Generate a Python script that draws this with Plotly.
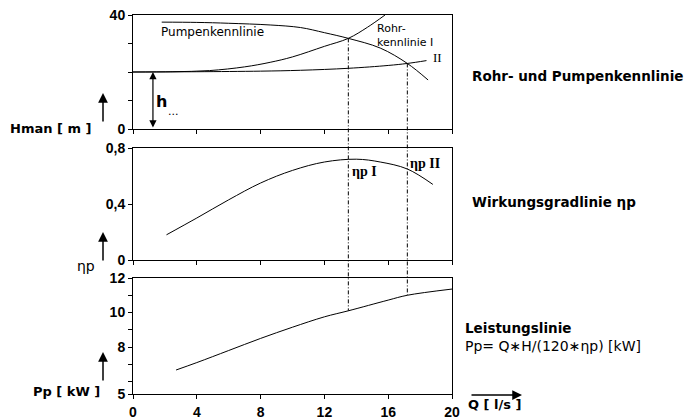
import plotly.graph_objects as go

# ---------------- data ----------------
# Pumpenkennlinie H(Q)
q_pump = [1.8, 4.0, 6.0, 8.6, 10.5, 12.0, 13.5, 15.5, 17.2, 18.5]
h_pump = [37.5, 37.4, 37.1, 36.5, 35.6, 33.8, 31.8, 28.4, 23.0, 17.2]
# Rohrkennlinie I
q_rohr1 = [0.0, 2.5, 4.8, 7.0, 8.6, 10.0, 12.0, 13.5, 14.7, 15.8]
h_rohr1 = [20.0, 20.1, 20.5, 21.8, 23.4, 25.3, 29.0, 31.8, 35.7, 40.0]
# Rohrkennlinie II
q_rohr2 = [0.0, 4.0, 8.0, 10.5, 13.5, 16.0, 17.2, 18.4]
h_rohr2 = [20.0, 20.1, 20.3, 20.6, 21.3, 22.3, 23.0, 24.0]
# Wirkungsgradlinie eta_p(Q)
q_eta = [2.1, 4.0, 6.0, 8.0, 10.0, 12.0, 14.0, 15.5, 17.2, 18.8]
eta = [0.18, 0.30, 0.43, 0.55, 0.64, 0.70, 0.72, 0.70, 0.65, 0.54]
# Leistungslinie P(Q)
q_p = [2.7, 4.0, 6.0, 8.0, 10.0, 12.0, 13.5, 16.0, 17.2, 20.0]
p_p = [6.67, 7.1, 7.8, 8.5, 9.15, 9.75, 10.1, 10.72, 11.0, 11.36]
# Betriebspunkte I and II
q_op = [13.5, 17.2]
h_op = [31.8, 23.0]
p_op = [10.1, 11.0]

x_ticks = [0, 4, 8, 12, 16, 20]
h_ticks = [0, 10, 20, 30, 40]
h_ticktext = ["0", "", "", "", "40"]
eta_ticks = [0, 0.4, 0.8]
eta_ticktext = ["0", "0,4", "0,8"]
p_axis_start = 5.28  # broken axis: bottom labelled 5
p_ticks = [p_axis_start, 6, 7, 8, 9, 10, 11, 12]
p_ticktext = ["5", "", "", "8", "", "10", "", "12"]
h_geo = 20.0

# ---------------- layout geometry ----------------
W, H = 686, 419
xdom = [133 / W, 452 / W]
dom_top = [1 - 129 / H, 1 - 15 / H]
dom_mid = [1 - 260 / H, 1 - 148 / H]
dom_bot = [1 - 394 / H, 1 - 278 / H]
rng_top = [0, 40]
rng_mid = [0, 0.8]
rng_bot = [p_axis_start, 12]


def to_paper(v, dom, rng):
    return dom[0] + (v - rng[0]) / (rng[1] - rng[0]) * (dom[1] - dom[0])


line = dict(color="black", width=1)
SANS = "DejaVu Sans"
TICK = "Liberation Sans"
SERIF = "Liberation Serif"

fig = go.Figure()
fig.add_trace(go.Scatter(x=q_pump, y=h_pump, mode="lines", line=dict(shape="spline", **line),
                         xaxis="x3", yaxis="y3"))
fig.add_trace(go.Scatter(x=q_rohr1, y=h_rohr1, mode="lines", line=dict(shape="spline", **line),
                         xaxis="x3", yaxis="y3"))
fig.add_trace(go.Scatter(x=q_rohr2, y=h_rohr2, mode="lines", line=dict(shape="spline", **line),
                         xaxis="x3", yaxis="y3"))
fig.add_trace(go.Scatter(x=q_eta, y=eta, mode="lines", line=dict(shape="spline", **line),
                         xaxis="x2", yaxis="y2"))
fig.add_trace(go.Scatter(x=q_p, y=p_p, mode="lines", line=dict(shape="spline", **line),
                         xaxis="x", yaxis="y"))

tickfont = dict(family=TICK, size=14, color="black", weight="bold")
common_x = dict(range=[0, 20], tickvals=x_ticks, ticks="outside", ticklen=4, tickcolor="black",
                showline=True, linecolor="black", linewidth=1, mirror=True, showgrid=False,
                zeroline=False, domain=xdom, fixedrange=True, automargin=False)
common_y = dict(ticks="outside", ticklen=4, tickcolor="black", showline=True, linecolor="black",
                linewidth=1, mirror=True, showgrid=False, zeroline=False, fixedrange=True,
                automargin=False, tickfont=tickfont)

shapes = []
for q, h, p in zip(q_op, h_op, p_op):
    shapes.append(dict(type="line", xref="x", yref="paper", x0=q, x1=q,
                       y0=to_paper(h, dom_top, rng_top), y1=to_paper(p, dom_bot, rng_bot),
                       line=dict(color="black", width=1, dash="4px,2px,1px,2px")))

ann = []


def txt(x, y, t, size=12, bold=True, family=SANS, xanchor="left", xref="paper", yref="paper"):
    ann.append(dict(x=x, y=y, xref=xref, yref=yref, text=t, showarrow=False, xanchor=xanchor,
                    yanchor="middle",
                    font=dict(family=family, size=size, color="black",
                              weight="bold" if bold else "normal")))


def px(xp, yp):
    return xp / W, 1 - yp / H


# right-hand titles
txt(*px(470, 76), "Rohr- und Pumpenkennlinie", 13.5)
txt(*px(470, 202), "Wirkungsgradlinie ηp", 13.5)
txt(*px(463, 328), "Leistungslinie", 13.5)
txt(*px(463, 346), "Pp= Q∗H/(120∗ηp) [kW]", 14, bold=False)
txt(*px(466, 404), "Q [ l/s ]", 13)
# left axis titles
txt(*px(93, 128), "Hman [ m ]", 13, xanchor="right")
txt(*px(97, 266), "ηp", 14, bold=False, xanchor="right")
txt(*px(102, 391), "Pp [ kW ]", 13, xanchor="right")
# curve labels
txt(1.6, 34.0, "Pumpenkennlinie", 12, bold=False, xref="x3", yref="y3")
txt(15.2, 35.2, "Rohr-", 11, bold=False, xref="x3", yref="y3")
txt(15.2, 30.2, "kennlinie I", 11, bold=False, xref="x3", yref="y3")
txt(18.7, 25.0, "II", 13, bold=False, family=SERIF, xref="x3", yref="y3")
txt(1.3, 9.6, "h", 16, xref="x3", yref="y3")
txt(2.1, 6.0, "...", 11, bold=False, xref="x3", yref="y3")
txt(13.6, 0.63, "ηp I", 14, family=SERIF, xref="x2", yref="y2")
txt(17.25, 0.69, "ηp II", 14, family=SERIF, xref="x2", yref="y2")

# arrows
for yp_head in (93, 232, 352):
    xh, yh = px(103, yp_head)
    ann.append(dict(x=xh, y=yh, xref="paper", yref="paper", ax=0, ay=30, text="",
                    showarrow=True, arrowhead=2, arrowsize=1.3, arrowwidth=1.5, arrowcolor="black"))
xh, yh = px(522, 395)
ann.append(dict(x=xh, y=yh, xref="paper", yref="paper", ax=-52, ay=0, text="",
                showarrow=True, arrowhead=2, arrowsize=1.3, arrowwidth=1.5, arrowcolor="black"))
# h_geo double arrow
ann.append(dict(x=1.25, y=h_geo, xref="x3", yref="y3", ax=1.25, ay=0, axref="x3", ayref="y3",
                text="", showarrow=True, arrowhead=2, startarrowhead=2, arrowside="end+start",
                arrowsize=1.2, startarrowsize=1.2, arrowwidth=1.2, arrowcolor="black"))

fig.update_layout(
    width=W, height=H, margin=dict(l=0, r=0, t=0, b=0, autoexpand=False),
    paper_bgcolor="white", plot_bgcolor="white", showlegend=False, hovermode=False,
    xaxis=dict(anchor="y", ticktext=[str(v) for v in x_ticks], showticklabels=True,
               tickfont=tickfont, ticklabelstandoff=1, **common_x),
    xaxis2=dict(anchor="y2", showticklabels=False, **common_x),
    xaxis3=dict(anchor="y3", showticklabels=False, **common_x),
    yaxis=dict(anchor="x", domain=dom_bot, range=rng_bot, tickvals=p_ticks, ticktext=p_ticktext,
               **common_y),
    yaxis2=dict(anchor="x2", domain=dom_mid, range=rng_mid, tickvals=eta_ticks,
                ticktext=eta_ticktext, **common_y),
    yaxis3=dict(anchor="x3", domain=dom_top, range=rng_top, tickvals=h_ticks,
                ticktext=h_ticktext, **common_y),
    shapes=shapes, annotations=ann,
)

fig.write_html("out.html", config={"displayModeBar": False, "staticPlot": True},
               post_script="document.body.style.margin='0';document.body.style.overflow='hidden';")
